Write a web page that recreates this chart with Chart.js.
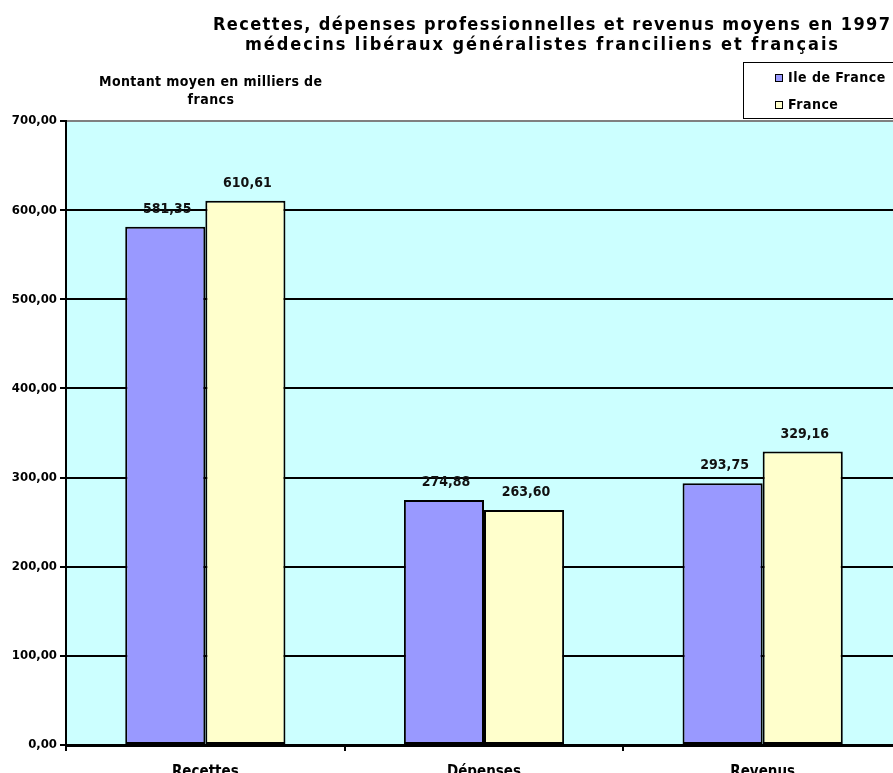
<!DOCTYPE html>
<html>
<head>
<meta charset="utf-8">
<script src="https://cdn.jsdelivr.net/npm/chart.js@4/dist/chart.umd.min.js"></script>
<style>
    html, body { margin: 0; padding: 0; background: #fff; overflow: hidden; }
    #wrap { width: 910px; height: 773px; }
</style>
</head>
<body>
<div id="wrap"><canvas id="chart" width="910" height="773"></canvas></div>
<script>
const categories = ['Recettes', 'Dépenses', 'Revenus'];
const ileDeFrance = [581.35, 274.88, 293.75];
const france = [610.61, 263.60, 329.16];
const seriesNames = ['Ile de France', 'France'];
const titleLines = [
    'Recettes, dépenses professionnelles et revenus moyens en 1997',
    'médecins libéraux généralistes franciliens et français',
];
const yTitleLines = ['Montant moyen en milliers de', 'francs'];

const FONT = '"DejaVu Sans Condensed", "DejaVu Sans", sans-serif';
const frNum = (v) => v.toFixed(2).replace('.', ',');

// draw text stretched with letter spacing so it spans a given width
function spreadText(ctx, text, x0, x1, y) {
    ctx.letterSpacing = '0px';
    const w = ctx.measureText(text).width;
    const sp = (x1 - x0 - w) / (text.length - 1);
    ctx.letterSpacing = sp + 'px';
    ctx.textAlign = 'left';
    ctx.fillText(text, x0, y);
    ctx.letterSpacing = '0px';
}

// cyan plot background
const plotBg = {
    id: 'plotBg',
    beforeDraw(chart) {
        const { ctx, chartArea: a } = chart;
        ctx.save();
        ctx.fillStyle = '#ccffff';
        ctx.fillRect(a.left, a.top, a.right - a.left, a.bottom - a.top);
        ctx.restore();
    },
};

// titles, value labels and the legend box
const extras = {
    id: 'extras',
    afterDatasetsDraw(chart) {
        const ctx = chart.ctx;
        ctx.save();
        ctx.fillStyle = '#111';
        ctx.textAlign = 'center';
        ctx.textBaseline = 'alphabetic';
        ctx.font = 'bold 14px ' + FONT;
        chart.data.datasets.forEach((ds, i) => {
            chart.getDatasetMeta(i).data.forEach((bar, j) => {
                ctx.fillText(frNum(ds.data[j]), bar.x + 2, bar.y - 14);
            });
        });

        ctx.fillStyle = '#000';
        ctx.font = 'bold 18px ' + FONT;
        spreadText(ctx, titleLines[0], 213, 890, 30);
        spreadText(ctx, titleLines[1], 245, 838, 50);

        ctx.font = 'bold 14px ' + FONT;
        spreadText(ctx, yTitleLines[0], 99, 322, 86);
        ctx.textAlign = 'center';
        ctx.letterSpacing = '0.5px';
        ctx.fillText(yTitleLines[1], 211, 104);

        // legend
        ctx.fillStyle = '#fff';
        ctx.fillRect(743, 62, 170, 57);
        ctx.strokeStyle = '#000';
        ctx.lineWidth = 1;
        ctx.strokeRect(743.5, 62.5, 170, 56);
        ctx.textAlign = 'left';
        chart.data.datasets.forEach((ds, i) => {
            const y = 82 + i * 27;
            ctx.fillStyle = ds.backgroundColor;
            ctx.fillRect(775, y - 8, 7, 7);
            ctx.strokeRect(775.5, y - 7.5, 7, 7);
            ctx.fillStyle = '#000';
            ctx.fillText(ds.label, 788, y);
        });
        ctx.letterSpacing = '0px';
        ctx.restore();
    },
};

new Chart(document.getElementById('chart'), {
    type: 'bar',
    data: {
        labels: categories,
        datasets: [
            {
                label: seriesNames[0],
                data: ileDeFrance,
                backgroundColor: '#9999ff',
                borderColor: '#000',
                borderWidth: 2,
                borderSkipped: false,
            },
            {
                label: seriesNames[1],
                data: france,
                backgroundColor: '#ffffcc',
                borderColor: '#000',
                borderWidth: 2,
                borderSkipped: false,
            },
        ],
    },
    options: {
        responsive: false,
        animation: false,
        layout: { padding: { top: 121, right: 8, left: 0, bottom: 0 } },
        categoryPercentage: 0.575,
        barPercentage: 1.0,
        plugins: {
            legend: { display: false },
            tooltip: { enabled: false },
        },
        scales: {
            x: {
                offset: true,
                grid: {
                    offset: true,
                    drawOnChartArea: false,
                    drawTicks: true,
                    tickLength: 6,
                    color: '#000',
                    lineWidth: 2,
                },
                border: { color: '#000', width: 3 },
                ticks: {
                    color: '#000',
                    font: { family: FONT, size: 15, weight: 'bold' },
                    padding: 12,
                },
                afterFit(scale) {
                    scale.height = 28;
                },
            },
            y: {
                min: 0,
                max: 700,
                grid: {
                    color: (c) => (c.tick && c.tick.value === 700 ? '#808080' : '#000'),
                    tickColor: '#000',
                    lineWidth: 2,
                    tickLength: 6,
                },
                border: { color: '#000', width: 2 },
                ticks: {
                    stepSize: 100,
                    color: '#000',
                    padding: 3,
                    font: { family: FONT, size: 13, weight: 'bold' },
                    callback: (v) => frNum(v),
                },
                afterFit(scale) {
                    scale.width = 66;
                },
            },
        },
    },
    plugins: [plotBg, extras],
});
</script>
</body>
</html>
